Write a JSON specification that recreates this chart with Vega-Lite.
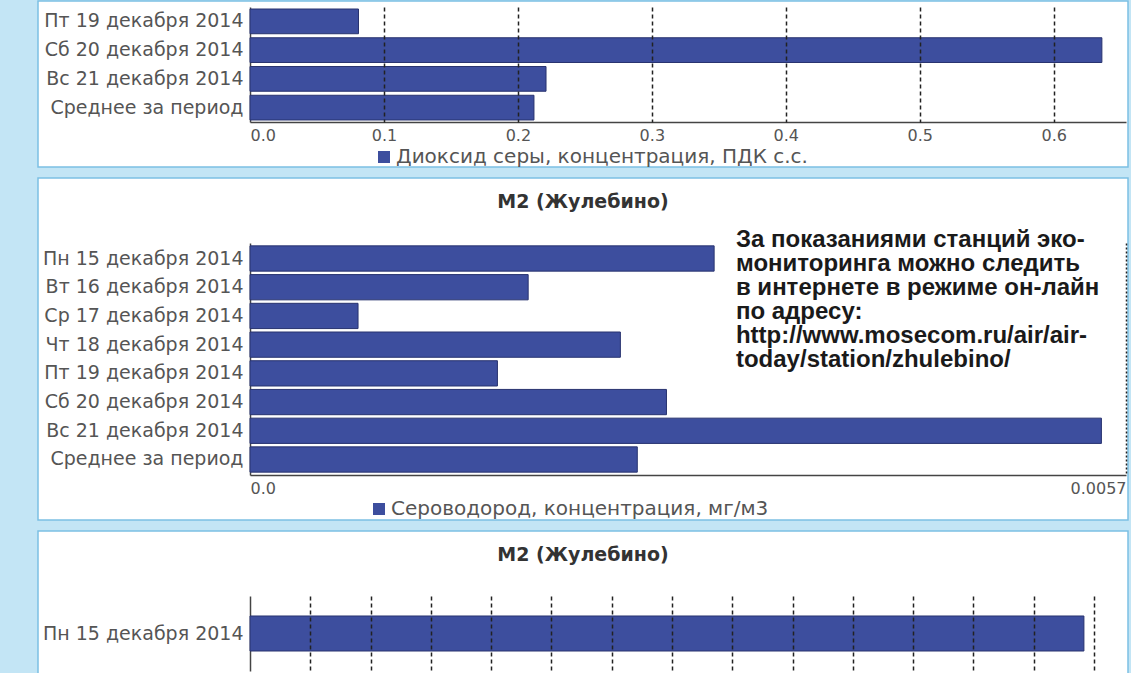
{
  "$schema": "https://vega.github.io/schema/vega-lite/v6.json",
  "background": "#c3e5f5",
  "padding": {"left": 37, "top": 0, "right": 4, "bottom": 0},
  "spacing": 9,
  "config": {
    "font": "DejaVu Sans",
    "view": {"fill": "white", "stroke": "#7cc0e4", "strokeWidth": 1.5},
    "axis": {"labelFont": "DejaVu Sans", "labelColor": "#555555", "domainColor": "#444444", "domainWidth": 1.5, "ticks": false, "title": null, "labelLimit": 300},
    "legend": {"labelFont": "DejaVu Sans", "labelFontSize": 20, "labelColor": "#555555", "labelLimit": 700, "symbolType": "square", "symbolSize": 144, "symbolStrokeWidth": 0, "labelOffset": 2, "padding": 0, "title": null},
    "title": {"font": "DejaVu Sans", "fontSize": 19, "fontWeight": "bold", "color": "#333333", "anchor": "middle", "frame": "group", "offset": -34, "baseline": "middle"}
  },
  "resolve": {"scale": {"color": "independent", "x": "independent", "y": "independent"}, "legend": {"color": "independent"}},
  "vconcat": [
    {
      "width": 1090,
      "height": 166,
      "data": {"values": [
        {"day": "Пт 19 декабря 2014", "value": 0.081, "series": "Диоксид серы, концентрация, ПДК с.с."},
        {"day": "Сб 20 декабря 2014", "value": 0.636, "series": "Диоксид серы, концентрация, ПДК с.с."},
        {"day": "Вс 21 декабря 2014", "value": 0.221, "series": "Диоксид серы, концентрация, ПДК с.с."},
        {"day": "Среднее за период", "value": 0.212, "series": "Диоксид серы, концентрация, ПДК с.с."}
      ]},
      "resolve": {"axis": {"x": "independent"}},
      "layer": [
        {
          "mark": {"type": "bar", "stroke": "#28336f", "strokeWidth": 1},
          "encoding": {
            "y": {"field": "day", "type": "nominal", "sort": null,
                  "scale": {"range": [6, 121], "paddingInner": 0.14, "paddingOuter": 0.07},
                  "axis": {"offset": -212, "labelFontSize": 19, "labelPadding": 7}},
            "x": {"field": "value", "type": "quantitative",
                  "scale": {"domain": [0, 0.654], "range": [212, 1088], "nice": false},
                  "axis": {"orient": "bottom", "offset": -45, "values": [0, 0.1, 0.2, 0.3, 0.4, 0.5, 0.6], "format": ".1f", "grid": false, "labelFontSize": 16, "labelFlush": true, "labelPadding": 5}},
            "color": {"field": "series", "type": "nominal", "scale": {"range": ["#3d4e9e"]},
                      "legend": {"orient": "none", "legendX": 336, "legendY": 146}}
          }
        },
        {
          "mark": {"type": "bar", "opacity": 0},
          "encoding": {
            "y": {"field": "day", "type": "nominal", "sort": null,
                  "axis": {"offset": -212, "labelFontSize": 19, "labelPadding": 7}},
            "x": {"field": "value", "type": "quantitative",
                  "axis": {"orient": "top", "values": [0.1, 0.2, 0.3, 0.4, 0.5, 0.6], "labels": false, "domain": false, "grid": true, "gridDash": [4, 3], "gridColor": "#222222", "gridWidth": 1.5, "zindex": 1}}
          }
        }
      ]
    },
    {
      "width": 1090,
      "height": 342,
      "title": "М2 (Жулебино)",
      "data": {"values": [
        {"day": "Пн 15 декабря 2014", "value": 0.00302, "series": "Сероводород, концентрация, мг/м3"},
        {"day": "Вт 16 декабря 2014", "value": 0.00181, "series": "Сероводород, концентрация, мг/м3"},
        {"day": "Ср 17 декабря 2014", "value": 0.000703, "series": "Сероводород, концентрация, мг/м3"},
        {"day": "Чт 18 декабря 2014", "value": 0.00241, "series": "Сероводород, концентрация, мг/м3"},
        {"day": "Пт 19 декабря 2014", "value": 0.00161, "series": "Сероводород, концентрация, мг/м3"},
        {"day": "Сб 20 декабря 2014", "value": 0.00271, "series": "Сероводород, концентрация, мг/м3"},
        {"day": "Вс 21 декабря 2014", "value": 0.00554, "series": "Сероводород, концентрация, мг/м3"},
        {"day": "Среднее за период", "value": 0.00252, "series": "Сероводород, концентрация, мг/м3"}
      ]},
      "resolve": {"axis": {"x": "independent"}},
      "layer": [
        {
          "mark": {"type": "bar", "stroke": "#28336f", "strokeWidth": 1},
          "encoding": {
            "y": {"field": "day", "type": "nominal", "sort": null,
                  "scale": {"range": [65, 297], "paddingInner": 0.12, "paddingOuter": 0.1},
                  "axis": {"offset": -212, "labelFontSize": 19, "labelPadding": 7}},
            "x": {"field": "value", "type": "quantitative",
                  "scale": {"domain": [0, 0.0057], "range": [212, 1088], "nice": false},
                  "axis": {"orient": "bottom", "offset": -45, "values": [0, 0.0057], "labelExpr": "datum.value == 0 ? '0.0' : '0.0057'", "grid": false, "labelFontSize": 16, "labelFlush": true, "labelPadding": 5}},
            "color": {"field": "series", "type": "nominal", "scale": {"range": ["#3d4e9e"]},
                      "legend": {"orient": "none", "legendX": 331, "legendY": 321}}
          }
        },
        {
          "mark": {"type": "bar", "opacity": 0},
          "encoding": {
            "y": {"field": "day", "type": "nominal", "sort": null,
                  "axis": {"offset": -212, "labelFontSize": 19, "labelPadding": 7}},
            "x": {"field": "value", "type": "quantitative",
                  "axis": {"orient": "top", "values": [0.0057], "labels": false, "domain": false, "grid": true, "gridDash": [2, 2], "gridColor": "#222222", "gridWidth": 1.5, "zindex": 1}}
          }
        },
        {
          "data": {"values": [{}]},
          "mark": {"type": "text", "text": ["За показаниями станций эко-", "мониторинга можно следить", "в интернете в режиме он-лайн", "по адресу:", "http://www.mosecom.ru/air/air-", "today/station/zhulebino/"],
                   "font": "Liberation Sans", "fontWeight": "bold", "fontSize": 24, "lineHeight": 24, "align": "left", "baseline": "top", "dy": -31, "color": "#1a1a1a"},
          "encoding": {
            "x": {"datum": 0.003162, "type": "quantitative", "axis": null},
            "y": {"datum": "Пн 15 декабря 2014", "type": "nominal"}
          }
        }
      ]
    },
    {
      "width": 1090,
      "height": 145,
      "title": "М2 (Жулебино)",
      "data": {"values": [
        {"day": "Пн 15 декабря 2014", "value": 0.6916}
      ]},
      "layer": [
        {
          "mark": {"type": "bar", "color": "#3d4e9e", "stroke": "#28336f", "strokeWidth": 1},
          "encoding": {
            "y": {"field": "day", "type": "nominal", "sort": null,
                  "scale": {"range": [65, 140], "paddingInner": 0, "paddingOuter": 0.571},
                  "axis": {"offset": -212, "labelFontSize": 19, "labelPadding": 7}},
            "x": {"field": "value", "type": "quantitative",
                  "scale": {"domain": [0, 0.7265], "range": [212, 1088], "nice": false},
                  "axis": {"orient": "top", "values": [0.05, 0.1, 0.15, 0.2, 0.25, 0.3, 0.35, 0.4, 0.45, 0.5, 0.55, 0.6, 0.65, 0.7], "labels": false, "domain": false, "grid": true, "gridDash": [4, 3], "gridColor": "#222222", "gridWidth": 1.5, "zindex": 1}}
          }
        }
      ]
    }
  ]
}
